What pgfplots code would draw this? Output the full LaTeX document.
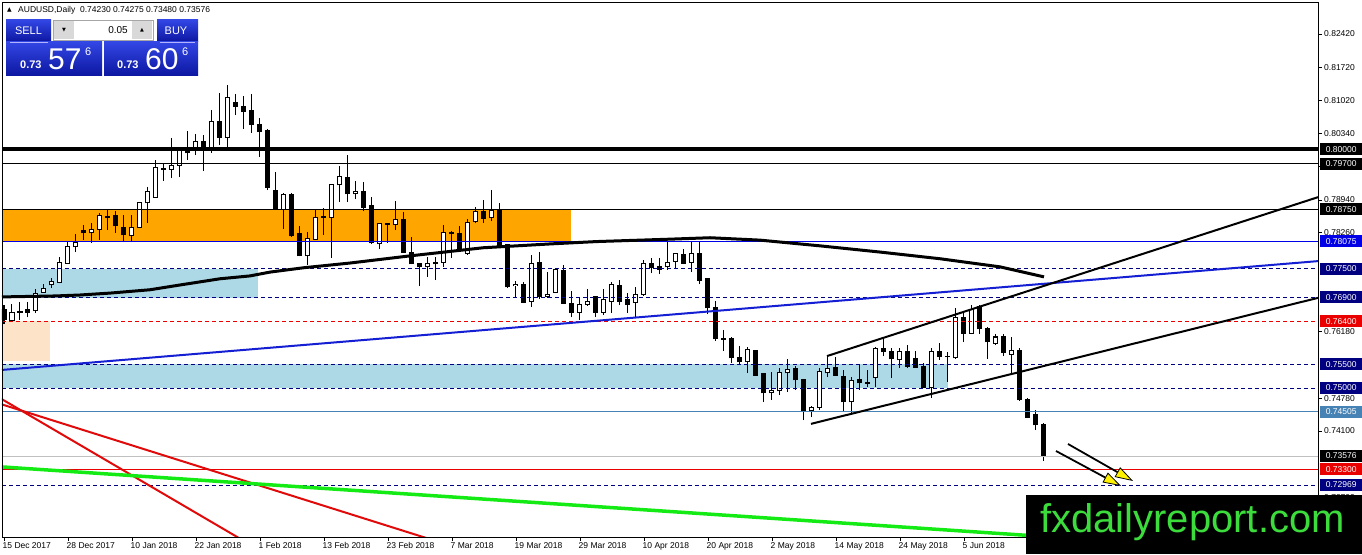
\documentclass[border=0pt]{standalone}
\usepackage{pgfplots}
\pgfplotsset{compat=1.18}
\usepackage{pgfplotstable}
\usepackage{fontspec}
\setmainfont{Liberation Sans}
\newfontfamily\dejavu{DejaVu Sans}
\usetikzlibrary{arrows.meta}
\definecolor{mtnavy}{RGB}{0,0,128}
\definecolor{mtblue}{RGB}{0,0,230}
\definecolor{trblue}{RGB}{20,30,210}
\definecolor{mtsteel}{RGB}{70,130,180}
\definecolor{mtred}{RGB}{235,0,0}
\definecolor{trred}{RGB}{225,10,10}
\definecolor{mtorange}{RGB}{255,165,0}
\definecolor{mtlblue}{RGB}{173,216,230}
\definecolor{mtpeach}{RGB}{253,227,200}
\definecolor{mtgreen}{RGB}{20,235,20}
\definecolor{logogreen}{RGB}{60,220,60}
\definecolor{paneltop}{RGB}{50,70,228}
\definecolor{panelbot}{RGB}{12,22,160}
\definecolor{silverline}{RGB}{192,192,192}
\newcommand\mtfont{\fontsize{8.5}{10}\selectfont}

\pgfplotstableread{
i o h l c
0 0.7664 0.7674 0.7634 0.7643
1 0.7641 0.7676 0.7638 0.7659
2 0.7659 0.7680 0.7643 0.7660
3 0.7664 0.7680 0.7649 0.7659
4 0.7662 0.7708 0.7657 0.7699
5 0.7701 0.7718 0.7699 0.7708
6 0.7716 0.7731 0.7710 0.7724
7 0.7722 0.7775 0.7720 0.7764
8 0.7762 0.7806 0.7760 0.7796
9 0.7796 0.7823 0.7785 0.7804
10 0.7831 0.7842 0.7810 0.7825
11 0.7825 0.7846 0.7804 0.7833
12 0.7833 0.7867 0.7810 0.7861
13 0.7858 0.7875 0.7831 0.7859
14 0.7861 0.7871 0.7825 0.7840
15 0.7837 0.7863 0.7806 0.7821
16 0.7819 0.7863 0.7806 0.7837
17 0.7837 0.7890 0.7835 0.7888
18 0.7888 0.7921 0.7846 0.7911
19 0.7900 0.7978 0.7899 0.7963
20 0.7961 0.7972 0.7934 0.7959
21 0.7959 0.8024 0.7940 0.7967
22 0.7967 0.8005 0.7942 0.8003
23 0.7995 0.8039 0.7978 0.7993
24 0.8003 0.8032 0.7988 0.8016
25 0.8016 0.8030 0.7955 0.8003
26 0.7999 0.8083 0.7993 0.8058
27 0.8058 0.8118 0.8009 0.8026
28 0.8026 0.8135 0.8005 0.8108
29 0.8099 0.8116 0.8072 0.8091
30 0.8091 0.8112 0.8043 0.8079
31 0.8081 0.8116 0.8035 0.8053
32 0.8053 0.8066 0.7984 0.8037
33 0.8039 0.8043 0.7915 0.7921
34 0.7915 0.7953 0.7874 0.7875
35 0.7875 0.7909 0.7833 0.7905
36 0.7905 0.7909 0.7817 0.7819
37 0.7823 0.7840 0.7776 0.7777
38 0.7777 0.7827 0.7758 0.7814
39 0.7812 0.7875 0.7810 0.7858
40 0.7858 0.7877 0.7821 0.7859
41 0.7858 0.7928 0.7773 0.7926
42 0.7926 0.7965 0.7890 0.7944
43 0.7942 0.7988 0.7890 0.7907
44 0.7907 0.7934 0.7896 0.7911
45 0.7911 0.7932 0.7871 0.7879
46 0.7882 0.7900 0.7802 0.7804
47 0.7802 0.7846 0.7791 0.7844
48 0.7844 0.7846 0.7804 0.7843
49 0.7842 0.7892 0.7831 0.7854
50 0.7854 0.7869 0.7783 0.7785
51 0.7785 0.7817 0.7759 0.7760
52 0.7760 0.7762 0.7714 0.7754
53 0.7754 0.7775 0.7733 0.7762
54 0.7764 0.7775 0.7726 0.7760
55 0.7764 0.7842 0.7754 0.7825
56 0.7827 0.7829 0.7773 0.7823
57 0.7823 0.7840 0.7785 0.7789
58 0.7783 0.7854 0.7779 0.7846
59 0.7848 0.7879 0.7845 0.7871
60 0.7871 0.7894 0.7846 0.7856
61 0.7858 0.7915 0.7850 0.7873
62 0.7875 0.7888 0.7795 0.7796
63 0.7800 0.7802 0.7710 0.7712
64 0.7714 0.7724 0.7689 0.7718
65 0.7718 0.7722 0.7678 0.7680
66 0.7682 0.7779 0.7670 0.7762
67 0.7764 0.7785 0.7687 0.7691
68 0.7691 0.7743 0.7689 0.7697
69 0.7701 0.7752 0.7699 0.7749
70 0.7747 0.7758 0.7676 0.7678
71 0.7678 0.7703 0.7649 0.7659
72 0.7659 0.7691 0.7643 0.7676
73 0.7676 0.7708 0.7672 0.7682
74 0.7691 0.7693 0.7649 0.7659
75 0.7659 0.7708 0.7653 0.7685
76 0.7682 0.7722 0.7658 0.7716
77 0.7714 0.7726 0.7674 0.7682
78 0.7685 0.7699 0.7657 0.7676
79 0.7680 0.7712 0.7649 0.7697
80 0.7697 0.7768 0.7693 0.7760
81 0.7760 0.7773 0.7741 0.7752
82 0.7754 0.7773 0.7739 0.7749
83 0.7754 0.7806 0.7748 0.7764
84 0.7766 0.7783 0.7749 0.7781
85 0.7779 0.7791 0.7760 0.7762
86 0.7764 0.7806 0.7743 0.7783
87 0.7783 0.7806 0.7718 0.7726
88 0.7729 0.7731 0.7655 0.7668
89 0.7668 0.7682 0.7599 0.7603
90 0.7603 0.7622 0.7578 0.7602
91 0.7603 0.7607 0.7553 0.7563
92 0.7565 0.7588 0.7548 0.7555
93 0.7555 0.7586 0.7532 0.7580
94 0.7578 0.7580 0.7525 0.7527
95 0.7530 0.7532 0.7471 0.7490
96 0.7490 0.7534 0.7475 0.7494
97 0.7494 0.7542 0.7485 0.7532
98 0.7532 0.7561 0.7492 0.7538
99 0.7542 0.7546 0.7496 0.7517
100 0.7517 0.7519 0.7433 0.7452
101 0.7452 0.7462 0.7439 0.7460
102 0.7460 0.7542 0.7454 0.7534
103 0.7532 0.7565 0.7523 0.7542
104 0.7544 0.7565 0.7525 0.7527
105 0.7525 0.7538 0.7450 0.7471
106 0.7471 0.7523 0.7448 0.7515
107 0.7517 0.7548 0.7496 0.7511
108 0.7511 0.7538 0.7502 0.7510
109 0.7523 0.7586 0.7502 0.7582
110 0.7582 0.7605 0.7567 0.7576
111 0.7576 0.7584 0.7521 0.7561
112 0.7559 0.7584 0.7542 0.7576
113 0.7576 0.7590 0.7542 0.7546
114 0.7561 0.7578 0.7542 0.7544
115 0.7546 0.7553 0.7500 0.7502
116 0.7502 0.7584 0.7479 0.7576
117 0.7576 0.7595 0.7559 0.7567
118 0.7567 0.7576 0.7513 0.7566
119 0.7563 0.7668 0.7561 0.7647
120 0.7647 0.7659 0.7597 0.7615
121 0.7615 0.7674 0.7613 0.7664
122 0.7670 0.7674 0.7613 0.7624
123 0.7624 0.7628 0.7561 0.7597
124 0.7594 0.7613 0.7590 0.7607
125 0.7607 0.7613 0.7567 0.7574
126 0.7571 0.7607 0.7527 0.7578
127 0.7578 0.7584 0.7473 0.7475
128 0.7477 0.7479 0.7437 0.7439
129 0.7444 0.7454 0.7412 0.7423
130 0.74230 0.74275 0.73480 0.73576
}\candles

\begin{document}
\begin{tikzpicture}[x=1pt,y=1pt]
\useasboundingbox (0,0) rectangle (1362,554);
\fill[white] (0,0) rectangle (1362,554);
\begin{axis}[
  at={(2pt,17pt)}, anchor=south west,
  width=1316pt, height=535pt, scale only axis,
  xmin=-0.25, xmax=164.25, ymin=0.71879, ymax=0.83090,
  axis on top,
  axis line style={black, line width=0.8pt},
  tick align=outside, major tick length=4pt,
  tick style={black, line width=0.6pt},
  xtick pos=bottom, ytick pos=right, yticklabel pos=right,
  xtick={0,8,...,120},
  xticklabels={15 Dec 2017, 28 Dec 2017, 10 Jan 2018, 22 Jan 2018, 1 Feb 2018, 13 Feb 2018, 23 Feb 2018, 7 Mar 2018, 19 Mar 2018, 29 Mar 2018, 10 Apr 2018, 20 Apr 2018, 2 May 2018, 14 May 2018, 24 May 2018, 5 Jun 2018},
  xticklabel style={anchor=north west, inner sep=0pt, xshift=-1.5pt, yshift=-1pt, font=\mtfont},
  ytick={0.8242,0.8172,0.8102,0.8034,0.7964,0.7894,0.7826,0.7618,0.7478,0.7410,0.7270},
  yticklabels={0.82420,0.81720,0.81020,0.80340,0.79640,0.78940,0.78260,0.76180,0.74780,0.74100,0.72700},
  yticklabel style={anchor=west, inner sep=0pt, xshift=2pt, font=\mtfont},
]
% background zones
\fill[mtorange] (axis cs:-0.25,0.7875) rectangle (axis cs:70.875,0.78075);
\fill[mtlblue] (axis cs:-0.25,0.7750) rectangle (axis cs:31.75,0.7688);
\fill[mtpeach] (axis cs:-0.25,0.7640) rectangle (axis cs:5.75,0.7557);
\fill[mtlblue] (axis cs:-0.25,0.7550) rectangle (axis cs:118,0.7500);

% candles: wicks
\addplot[draw=none, mark=none, forget plot,
  error bars/.cd, y dir=plus, y explicit, error mark=none,
  error bar style={draw=black, line width=1pt}]
  table[x=i, y=l, y error plus expr={\thisrow{h}-\thisrow{l}}] {\candles};
% candles: body (black / outline)
\addplot[draw=none, mark=none, forget plot,
  error bars/.cd, y dir=plus, y explicit, error mark=none,
  error bar style={draw=black, line width=5pt}]
  table[x=i, y expr={min(\thisrow{o},\thisrow{c})-0.000105},
        y error plus expr={abs(\thisrow{c}-\thisrow{o})+0.00021}] {\candles};
% candles: white inside of rising bodies
\addplot[draw=none, mark=none, forget plot,
  error bars/.cd, y dir=plus, y explicit, error mark=none,
  error bar style={draw=white, line width=3pt}]
  table[x=i, y expr={min(\thisrow{o},\thisrow{c})+0.000105},
        y error plus expr={(\thisrow{c}>\thisrow{o})*max(\thisrow{c}-\thisrow{o}-0.00021,0)}] {\candles};

% horizontal levels
\addplot[black, line width=4pt] coordinates {(-0.25,0.80000) (164.25,0.80000)};
\addplot[black, line width=0.8pt] coordinates {(-0.25,0.79700) (164.25,0.79700)};
\addplot[black, line width=0.8pt] coordinates {(-0.25,0.78750) (164.25,0.78750)};
\addplot[mtblue, line width=0.8pt] coordinates {(-0.25,0.78075) (164.25,0.78075)};
\addplot[mtnavy, line width=0.8pt, dash pattern=on 4pt off 3pt] coordinates {(-0.25,0.77500) (164.25,0.77500)};
\addplot[mtnavy, line width=0.8pt, dash pattern=on 4pt off 3pt] coordinates {(-0.25,0.76900) (164.25,0.76900)};
\addplot[mtred, line width=0.8pt, dash pattern=on 4pt off 3pt] coordinates {(-0.25,0.76400) (164.25,0.76400)};
\addplot[mtnavy, line width=0.8pt, dash pattern=on 4pt off 3pt] coordinates {(-0.25,0.75500) (164.25,0.75500)};
\addplot[mtnavy, line width=0.8pt, dash pattern=on 4pt off 3pt] coordinates {(-0.25,0.75000) (164.25,0.75000)};
\addplot[mtsteel, line width=0.8pt] coordinates {(-0.25,0.74505) (164.25,0.74505)};
\addplot[silverline, line width=0.8pt] coordinates {(-0.25,0.73576) (164.25,0.73576)};
\addplot[mtred, line width=0.8pt] coordinates {(-0.25,0.73300) (164.25,0.73300)};
\addplot[mtnavy, line width=0.8pt, dash pattern=on 4pt off 3pt] coordinates {(-0.25,0.72969) (164.25,0.72969)};

% moving average
\addplot[black, line width=3pt, line join=round] coordinates {
 (-0.25,0.7691) (6.4,0.7693) (9.5,0.7695) (13.25,0.7699) (18.25,0.7706) (22,0.7716)
 (27,0.7729) (30.75,0.7735) (33.25,0.7743) (37.4,0.7752) (43.25,0.7762) (50.75,0.7777)
 (59.9,0.7794) (68.25,0.7802) (74.1,0.7807) (83.25,0.7812) (88.25,0.7815) (94.5,0.7810)
 (102,0.7798) (109.5,0.7785) (117,0.7771) (124.5,0.7754) (130,0.7733)};

% trend lines
\addplot[trblue, line width=2pt] coordinates {(-0.25,0.7538) (164.25,0.7766)};
\addplot[black, line width=2pt] coordinates {(102.875,0.7567) (164.25,0.7900)};
\addplot[black, line width=2pt] coordinates {(100.875,0.7425) (164.25,0.7689)};
\addplot[trred, line width=2pt] coordinates {(-0.5,0.7479) (29.75,0.7182)};
\addplot[trred, line width=2pt] coordinates {(-0.5,0.7467) (53.5,0.7182)};
\addplot[mtgreen, line width=3.5pt] coordinates {(-0.5,0.7335) (136.25,0.7182)};

% anchors of the price labels
\coordinate (L1) at (axis cs:164.25,0.80000);
\coordinate (L2) at (axis cs:164.25,0.79700);
\coordinate (L3) at (axis cs:164.25,0.78750);
\coordinate (L4) at (axis cs:164.25,0.78075);
\coordinate (L5) at (axis cs:164.25,0.77500);
\coordinate (L6) at (axis cs:164.25,0.76900);
\coordinate (L7) at (axis cs:164.25,0.76400);
\coordinate (L8) at (axis cs:164.25,0.75500);
\coordinate (L9) at (axis cs:164.25,0.75000);
\coordinate (L10) at (axis cs:164.25,0.74505);
\coordinate (L11) at (axis cs:164.25,0.73576);
\coordinate (L12) at (axis cs:164.25,0.73300);
\coordinate (L13) at (axis cs:164.25,0.72969);
\end{axis}

% price labels on the right
\tikzset{lbl/.style={anchor=west, xshift=2pt, inner xsep=2pt, inner ysep=0pt,
  minimum height=12pt, minimum width=42pt, text=white, font=\mtfont}}
\node[lbl, fill=black] at (L1) {0.80000};
\node[lbl, fill=black] at (L2) {0.79700};
\node[lbl, fill=black] at (L3) {0.78750};
\node[lbl, fill=mtblue] at (L4) {0.78075};
\node[lbl, fill=mtnavy] at (L5) {0.77500};
\node[lbl, fill=mtnavy] at (L6) {0.76900};
\node[lbl, fill=mtred] at (L7) {0.76400};
\node[lbl, fill=mtnavy] at (L8) {0.75500};
\node[lbl, fill=mtnavy] at (L9) {0.75000};
\node[lbl, fill=mtsteel] at (L10) {0.74505};
\node[lbl, fill=black] at (L11) {0.73576};
\node[lbl, fill=mtred] at (L12) {0.73300};
\node[lbl, fill=mtnavy] at (L13) {0.72969};

% header
\node[anchor=center, inner sep=0pt] at (9.5,544) {\dejavu\fontsize{6}{6}\selectfont ▲};
\node[anchor=west, inner sep=0pt] at (18,544) {\mtfont AUDUSD,Daily\ \ 0.74230 0.74275 0.73480 0.73576};

% one-click trading panel
\shade[top color=paneltop, bottom color=panelbot] (6,512) rectangle (51,534);
\shade[top color=paneltop, bottom color=panelbot] (6,478) rectangle (102,512);
\shade[top color=paneltop, bottom color=panelbot] (157,512) rectangle (198,534);
\shade[top color=paneltop, bottom color=panelbot] (104,478) rectangle (198,512);
\draw[white!70!blue, line width=0.6pt] (10,512) -- (48,512);
\draw[white!70!blue, line width=0.6pt] (160,512) -- (195,512);
\fill[white] (53,514) rectangle (153,534);
\fill[black!15] (54,515) rectangle (74,533);
\fill[black!15] (132,515) rectangle (152,533);
\draw[black!35, line width=0.6pt] (53,514) rectangle (153,534);
\node[inner sep=0pt] at (64,524) {\dejavu\fontsize{5}{5}\selectfont ▼};
\node[inner sep=0pt] at (142,524) {\dejavu\fontsize{5}{5}\selectfont ▲};
\node[anchor=east, inner sep=0pt] at (128,524) {\fontsize{10}{10}\selectfont 0.05};
\node[inner sep=0pt, text=white] at (28.5,523) {\fontsize{11}{11}\selectfont SELL};
\node[inner sep=0pt, text=white] at (176,523) {\fontsize{11}{11}\selectfont BUY};
\node[anchor=base west, inner sep=0pt, text=white] at (20,485) {\fontsize{11}{11}\selectfont\bfseries 0.73};
\node[anchor=base west, inner sep=0pt, text=white] at (48,484) {\fontsize{30}{30}\selectfont 57};
\node[anchor=base west, inner sep=0pt, text=white] at (85,498) {\fontsize{11}{11}\selectfont 6};
\node[anchor=base west, inner sep=0pt, text=white] at (117,485) {\fontsize{11}{11}\selectfont\bfseries 0.73};
\node[anchor=base west, inner sep=0pt, text=white] at (145,484) {\fontsize{30}{30}\selectfont 60};
\node[anchor=base west, inner sep=0pt, text=white] at (182,498) {\fontsize{11}{11}\selectfont 6};

% arrows
\draw[black, line width=1.8pt, -{Triangle[length=18pt,width=11pt,fill=yellow,line width=0.8pt]}] (1068,110) -- (1133,73);
\draw[black, line width=1.8pt, -{Triangle[length=18pt,width=11pt,fill=yellow,line width=0.8pt]}] (1056,103) -- (1121,68);

% logo
\fill[black] (1026,0) rectangle (1362,59);
\node[anchor=base west, inner sep=0pt, text=logogreen] at (1040,22) {\fontsize{40}{40}\selectfont fxdailyreport.com};
\end{tikzpicture}
\end{document}
